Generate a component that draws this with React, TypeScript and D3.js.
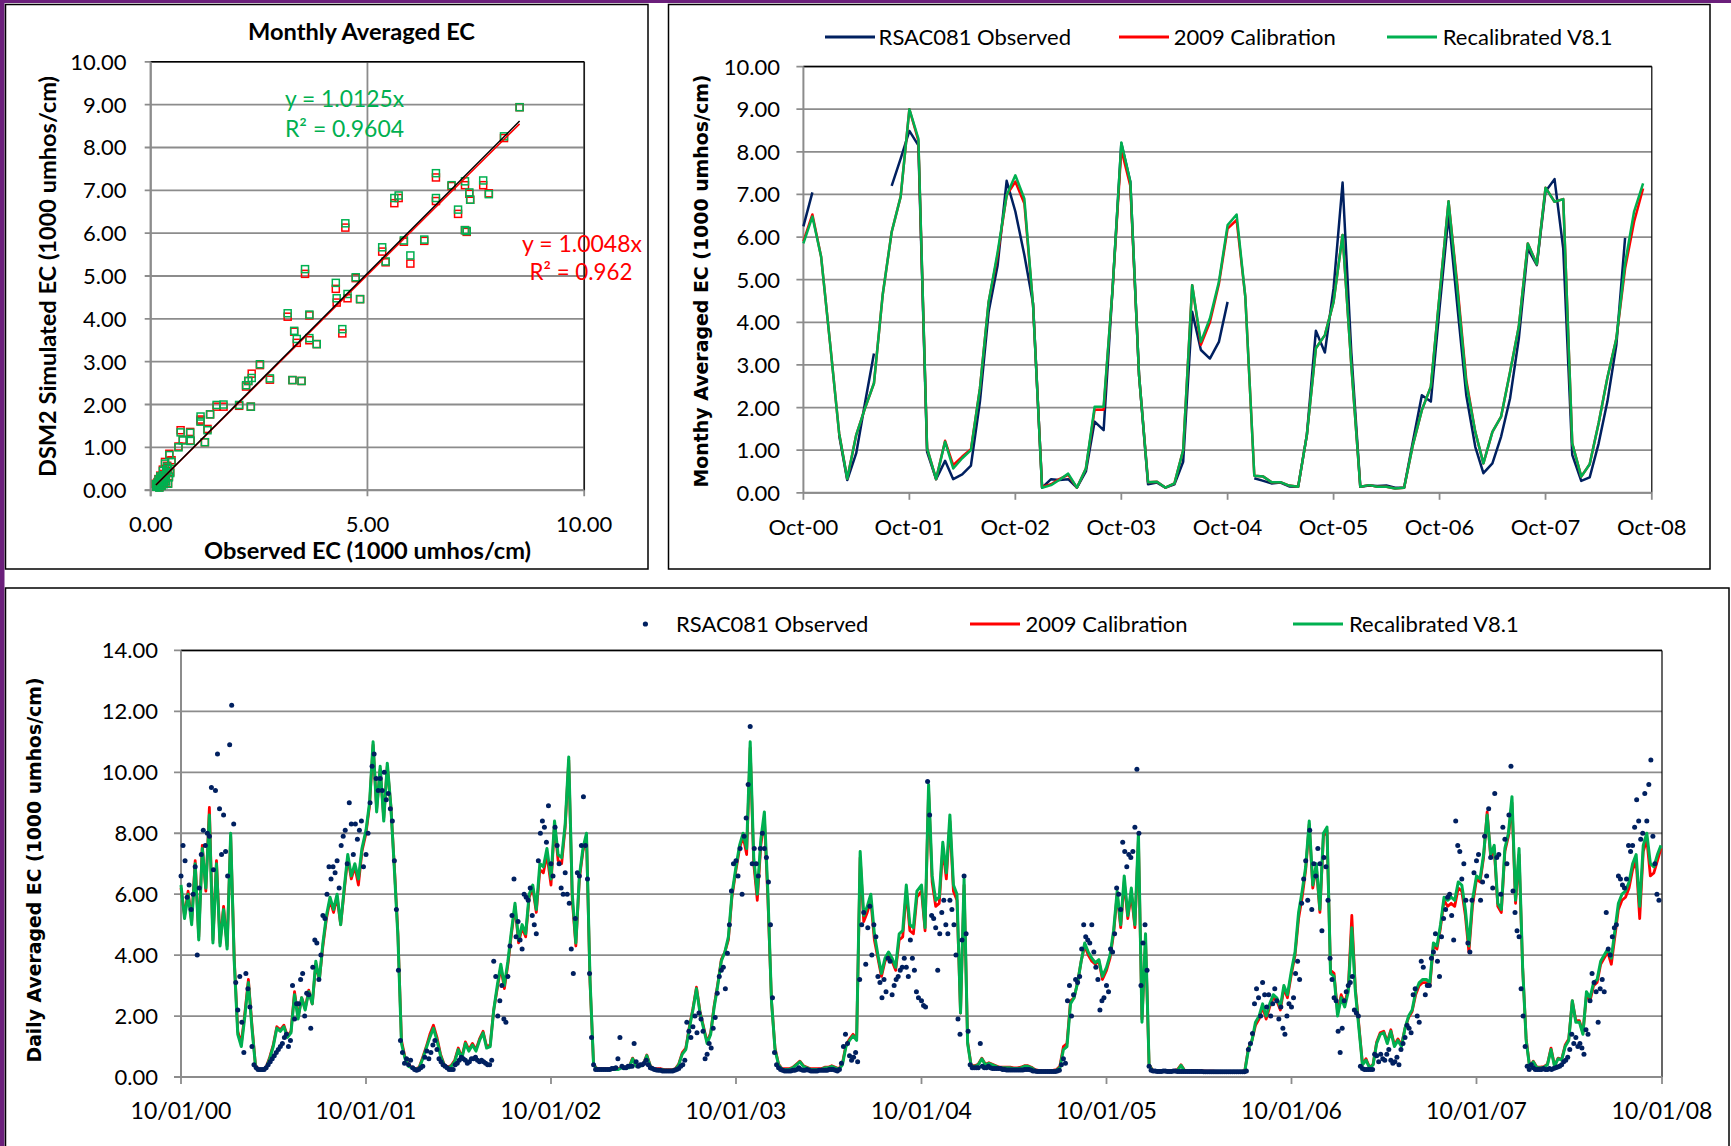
import React from 'react';
import * as d3 from 'd3';

const FONT = "Lato, 'Open Sans', sans-serif";
const TITLE_FONT = "'DejaVu Sans', Verdana, sans-serif";
const NAVY = '#002060';
const RED = '#ff0000';
const GREEN = '#00b050';
const GRID = '#8c8c8c';
const PURPLE = '#6b1f7b';

// ---------------- Scatter (monthly observed vs simulated) ----------------
const scatterObserved = [8.51, 8.15, 6.58, 6.94, 7.25, 7.67, 7.35, 7.37, 7.8, 6.58, 5.62, 5.72, 7.09, 7.25, 7.29, 4.49, 5.84, 6.31, 5.99, 5.34, 5.42, 3.56, 4.27, 4.73, 4.29, 4.54, 4.83, 3.16, 3.66, 3.31, 3.37, 3.66, 3.83, 4.42, 2.52, 2.33, 2.2, 2.25, 2.75, 3.27, 3.48, 2.04, 2.31, 1.52, 1.68, 1.37, 1.15, 1.15, 1.31, 1.25, 0.69, 0.91, 0.92, 0.74, 0.64, 0.43, 0.33, 0.48, 0.4, 0.36, 0.3, 0.28, 0.25, 0.22, 0.2, 0.18, 0.15, 0.13, 0.2, 0.25, 0.3, 0.35, 0.42, 0.45, 0.38, 0.28, 0.16, 0.12, 0.22, 0.32, 0.18, 0.4];
const scatterRecalibrated = [8.94, 8.26, 7.4, 7.12, 7.21, 7.23, 6.95, 6.78, 6.91, 6.82, 6.82, 6.88, 6.55, 6.07, 6.05, 6.23, 5.83, 5.85, 5.48, 5.67, 5.34, 5.16, 4.84, 4.97, 4.48, 4.58, 4.46, 4.13, 4.1, 3.72, 3.53, 3.55, 3.41, 3.76, 2.94, 2.62, 2.45, 2.55, 2.61, 2.57, 2.55, 1.99, 1.95, 1.99, 2.0, 1.77, 1.72, 1.6, 1.4, 1.12, 1.35, 1.34, 1.15, 1.16, 1.0, 0.82, 0.62, 0.66, 0.5, 0.42, 0.35, 0.45, 0.28, 0.2, 0.15, 0.12, 0.1, 0.08, 0.06, 0.1, 0.14, 0.2, 0.3, 0.4, 0.55, 0.22, 0.18, 0.14, 0.32, 0.25, 0.25, 0.15];
const scatterCalibration2009 = [8.94, 8.22, 7.3, 7.1, 7.12, 7.12, 6.92, 6.78, 6.93, 6.75, 6.7, 6.82, 6.45, 6.07, 6.03, 6.13, 5.8, 5.82, 5.29, 5.57, 5.32, 5.05, 4.7, 4.95, 4.38, 4.48, 4.46, 4.05, 4.08, 3.7, 3.44, 3.5, 3.41, 3.66, 2.92, 2.72, 2.42, 2.55, 2.58, 2.57, 2.55, 1.97, 1.95, 1.95, 1.95, 1.77, 1.65, 1.62, 1.43, 1.12, 1.4, 1.36, 1.16, 1.18, 1.02, 0.85, 0.66, 0.7, 0.52, 0.45, 0.38, 0.48, 0.3, 0.22, 0.16, 0.13, 0.11, 0.08, 0.07, 0.11, 0.15, 0.22, 0.32, 0.42, 0.57, 0.24, 0.19, 0.15, 0.34, 0.27, 0.26, 0.16];
const slopeRecalibrated = 1.0125;
const slopeCalibration2009 = 1.0048;
const scatterXTicks = [0, 5, 10];
const scatterYTicks = [0, 1, 2, 3, 4, 5, 6, 7, 8, 9, 10];

// ---------------- Monthly series, Oct-00 .. Sep-08 ----------------
const monthlyObserved = [6.25, 7.05, null, null, 1.35, 0.3, 0.93, 2.1, 3.27, null, 7.2, 7.84,
  8.49, 8.15, 0.96, 0.32, 0.75, 0.32, 0.43, 0.64, 2.14, 4.25, 5.34, 7.32,
  6.6, 5.58, 4.44, 0.12, 0.32, 0.3, 0.32, 0.12, 0.5, 1.67, 1.47, 4.8,
  8.2, 7.3, 2.76, 0.2, 0.24, 0.12, 0.2, 0.73, 4.25, 3.35, 3.15, 3.54,
  4.48, null, null, 0.34, 0.28, 0.22, 0.24, 0.15, 0.14, 1.36, 3.8, 3.29,
  4.8, 7.28, 3.3, 0.14, 0.17, 0.16, 0.17, 0.12, 0.12, 1.2, 2.29, 2.14,
  4.33, 6.52, 4.4, 2.29, 1.08, 0.46, 0.69, 1.32, 2.22, 3.62, 5.73, 5.34,
  7.07, 7.36, 5.73, 0.89, 0.28, 0.36, 1.16, 2.14, 3.47, 5.98, null, null];
const monthlyCalibration2009 = [5.9, 6.53, 5.54, 3.5, 1.4, 0.33, 1.36, 1.98, 2.57, 4.64, 6.12, 6.95,
  9.0, 8.26, 1.04, 0.32, 1.22, 0.65, 0.85, 1.02, 2.45, 4.48, 5.58, 6.98,
  7.3, 6.79, 4.4, 0.14, 0.2, 0.32, 0.42, 0.12, 0.57, 1.95, 1.95, 4.8,
  8.05, 7.2, 2.76, 0.25, 0.26, 0.12, 0.22, 1.0, 4.87, 3.47, 4.0, 4.9,
  6.2, 6.4, 4.6, 0.4, 0.38, 0.25, 0.25, 0.17, 0.14, 1.36, 3.39, 3.7,
  4.48, 6.05, 3.0, 0.14, 0.18, 0.14, 0.14, 0.1, 0.12, 1.12, 1.94, 2.49,
  4.64, 6.84, 4.9, 2.65, 1.43, 0.69, 1.43, 1.79, 2.84, 3.9, 5.85, 5.36,
  7.16, 6.83, 6.89, 1.16, 0.38, 0.67, 1.64, 2.7, 3.62, 5.26, 6.36, 7.14];
const monthlyRecalibrated = [5.85, 6.48, 5.54, 3.5, 1.4, 0.33, 1.36, 1.98, 2.57, 4.64, 6.12, 6.95,
  9.0, 8.31, 1.04, 0.32, 1.2, 0.57, 0.81, 1.0, 2.45, 4.48, 5.65, 6.98,
  7.45, 6.9, 4.4, 0.12, 0.18, 0.3, 0.45, 0.12, 0.57, 2.02, 2.02, 4.8,
  8.22, 7.3, 2.76, 0.25, 0.26, 0.12, 0.22, 1.0, 4.87, 3.54, 4.09, 4.95,
  6.28, 6.53, 4.6, 0.4, 0.38, 0.25, 0.25, 0.17, 0.14, 1.36, 3.39, 3.7,
  4.48, 6.05, 3.0, 0.14, 0.18, 0.14, 0.14, 0.1, 0.12, 1.12, 1.94, 2.49,
  4.64, 6.84, 4.8, 2.57, 1.43, 0.69, 1.43, 1.79, 2.84, 3.9, 5.85, 5.36,
  7.16, 6.83, 6.89, 1.16, 0.38, 0.67, 1.64, 2.7, 3.62, 5.38, 6.6, 7.26];
const monthlyTickLabels = ['Oct-00', 'Oct-01', 'Oct-02', 'Oct-03', 'Oct-04', 'Oct-05', 'Oct-06', 'Oct-07', 'Oct-08'];
const monthlyYTicks = [0, 1, 2, 3, 4, 5, 6, 7, 8, 9, 10];

// ---------------- Daily series (weekly readings of the model lines) ----------------
const recalWY2001 = [6.3, 5.2, 6.0, 5.0, 7.0, 4.5, 7.5, 6.2, 8.6, 4.4, 7.0, 4.3, 5.5, 4.2, 8.0, 3.8, 1.4, 1.0, 2.0, 3.1, 1.6, 0.35, 0.22, 0.22, 0.3, 0.6, 1.0, 1.6, 1.5, 1.65, 1.3, 1.45, 2.7, 1.9, 2.6, 2.2, 2.8, 2.4, 3.8, 3.2, 4.4, 5.3, 5.9, 5.5, 6.0, 5.0, 6.2, 7.3, 6.6, 7.0, 6.5, 7.5];
const recalWY2002 = [8.1, 9.0, 11.0, 8.7, 10.2, 8.4, 10.3, 8.9, 6.8, 4.6, 1.1, 0.6, 0.35, 0.3, 0.25, 0.3, 0.6, 0.95, 1.3, 1.6, 1.2, 0.7, 0.4, 0.3, 0.35, 0.5, 0.9, 0.6, 1.1, 0.85, 1.05, 0.85, 1.2, 1.45, 0.95, 1.0, 2.2, 3.0, 3.7, 3.0, 3.8, 4.8, 5.7, 4.5, 5.0, 4.7, 6.0, 6.3, 5.5, 7.0, 6.9, 7.5];
const recalWY2003 = [6.5, 8.4, 7.3, 7.2, 8.3, 10.5, 6.0, 4.4, 6.6, 7.5, 8.0, 3.2, 0.4, 0.25, 0.25, 0.25, 0.25, 0.25, 0.25, 0.25, 0.3, 0.3, 0.3, 0.6, 0.35, 0.35, 0.4, 0.7, 0.35, 0.25, 0.25, 0.25, 0.22, 0.22, 0.22, 0.25, 0.4, 0.75, 0.9, 1.6, 2.2, 2.9, 2.1, 1.6, 1.1, 1.4, 2.3, 3.0, 3.8, 4.1, 4.6, 6.0];
const recalWY2004 = [6.9, 7.6, 8.0, 7.5, 11.0, 7.2, 6.0, 7.8, 8.7, 6.0, 2.5, 0.9, 0.4, 0.25, 0.25, 0.25, 0.3, 0.4, 0.5, 0.35, 0.3, 0.25, 0.25, 0.25, 0.25, 0.3, 0.3, 0.35, 0.3, 0.25, 0.4, 1.0, 1.2, 1.35, 1.2, 7.4, 5.3, 5.6, 6.0, 4.7, 4.0, 3.4, 3.9, 4.1, 3.9, 3.6, 4.7, 4.8, 6.3, 5.0, 4.9, 6.1];
const recalWY2005 = [6.3, 4.9, 9.6, 6.6, 5.8, 5.9, 7.7, 6.7, 8.6, 6.3, 6.0, 2.1, 6.5, 1.1, 0.35, 0.35, 0.4, 0.6, 0.4, 0.45, 0.4, 0.35, 0.3, 0.3, 0.3, 0.3, 0.28, 0.28, 0.3, 0.35, 0.35, 0.3, 0.22, 0.2, 0.18, 0.18, 0.18, 0.2, 0.22, 0.3, 0.9, 1.0, 2.4, 2.6, 3.1, 3.8, 4.4, 4.1, 3.9, 3.75, 3.85, 3.3];
const recalWY2006 = [3.6, 4.0, 4.8, 6.1, 5.0, 6.6, 5.3, 6.2, 5.0, 8.0, 1.8, 4.7, 0.4, 0.2, 0.2, 0.2, 0.2, 0.2, 0.18, 0.2, 0.22, 0.38, 0.2, 0.18, 0.2, 0.2, 0.18, 0.18, 0.17, 0.17, 0.17, 0.16, 0.16, 0.16, 0.15, 0.15, 0.15, 0.15, 0.16, 0.2, 0.9, 1.2, 1.8, 2.0, 2.4, 2.0, 2.4, 2.7, 2.6, 2.3, 3.0, 2.7];
const recalWY2007 = [3.5, 4.1, 5.4, 6.1, 6.9, 8.4, 6.3, 7.0, 5.5, 8.0, 8.2, 3.4, 3.3, 2.0, 2.6, 2.3, 2.8, 4.9, 2.8, 1.6, 0.4, 0.55, 0.3, 0.4, 1.1, 1.4, 1.45, 1.1, 1.5, 1.0, 1.2, 1.0, 1.6, 2.0, 2.2, 2.8, 3.1, 3.2, 3.2, 3.1, 4.4, 4.3, 5.0, 5.9, 5.8, 5.9, 5.8, 6.4, 6.3, 5.5, 4.3, 5.8];
const recalWY2008 = [6.6, 6.5, 7.3, 8.6, 7.3, 7.6, 5.7, 5.5, 7.5, 8.0, 9.2, 5.8, 7.5, 3.6, 1.2, 0.3, 0.5, 0.3, 0.3, 0.32, 0.4, 0.9, 0.35, 0.6, 0.55, 1.0, 1.2, 2.5, 1.8, 1.8, 1.4, 2.8, 2.6, 3.1, 3.2, 3.8, 4.0, 4.2, 3.9, 4.8, 5.7, 6.0, 6.1, 6.4, 7.0, 7.3, 5.6, 7.6, 8.0, 7.0, 6.9, 7.3, 7.6];

const cal2009WY2001 = [6.2, 5.3, 6.1, 5.1, 7.1, 4.6, 7.6, 6.1, 8.85, 4.5, 7.1, 4.4, 5.6, 4.3, 7.9, 3.9, 1.5, 1.1, 2.1, 3.2, 1.7, 0.38, 0.24, 0.24, 0.32, 0.65, 1.05, 1.65, 1.55, 1.7, 1.35, 1.5, 2.8, 1.95, 2.6, 2.25, 2.85, 2.4, 3.7, 3.2, 4.3, 5.2, 5.8, 5.4, 5.9, 5.0, 6.1, 7.2, 6.5, 6.9, 6.3, 7.4];
const cal2009WY2002 = [8.0, 8.9, 10.9, 8.8, 10.1, 8.5, 10.2, 8.9, 6.9, 4.7, 1.2, 0.65, 0.38, 0.32, 0.27, 0.32, 0.65, 1.0, 1.4, 1.7, 1.3, 0.75, 0.42, 0.32, 0.38, 0.55, 0.95, 0.65, 1.15, 0.9, 1.1, 0.9, 1.25, 1.5, 1.0, 1.05, 2.2, 2.9, 3.6, 2.9, 3.7, 4.7, 5.6, 4.4, 4.9, 4.6, 5.9, 6.2, 5.4, 6.8, 6.7, 7.3];
const cal2009WY2003 = [6.3, 8.3, 7.1, 7.0, 8.2, 10.4, 5.8, 4.3, 6.5, 7.4, 7.9, 3.1, 0.42, 0.27, 0.27, 0.27, 0.27, 0.27, 0.27, 0.27, 0.32, 0.32, 0.32, 0.62, 0.37, 0.37, 0.42, 0.72, 0.37, 0.27, 0.27, 0.27, 0.24, 0.24, 0.24, 0.27, 0.42, 0.8, 0.95, 1.65, 2.25, 2.95, 2.15, 1.65, 1.15, 1.45, 2.35, 3.05, 3.85, 4.1, 4.5, 5.9];
const cal2009WY2004 = [6.8, 7.5, 7.9, 7.3, 10.8, 7.0, 5.8, 7.6, 8.5, 5.8, 2.5, 0.95, 0.42, 0.27, 0.27, 0.27, 0.32, 0.42, 0.52, 0.37, 0.32, 0.27, 0.27, 0.27, 0.27, 0.32, 0.32, 0.37, 0.32, 0.27, 0.45, 1.05, 1.25, 1.4, 1.25, 7.2, 5.1, 5.4, 5.8, 4.5, 3.9, 3.3, 3.8, 4.0, 3.8, 3.5, 4.5, 4.6, 6.1, 4.8, 4.7, 5.9];
const cal2009WY2005 = [6.1, 4.8, 9.4, 6.4, 5.6, 5.7, 7.5, 6.5, 8.4, 6.1, 5.8, 2.1, 6.3, 1.15, 0.37, 0.37, 0.42, 0.62, 0.42, 0.47, 0.42, 0.37, 0.32, 0.32, 0.32, 0.32, 0.3, 0.3, 0.32, 0.37, 0.37, 0.32, 0.24, 0.22, 0.2, 0.2, 0.2, 0.22, 0.24, 0.35, 1.0, 1.1, 2.5, 2.6, 3.1, 3.8, 4.3, 4.0, 3.8, 3.7, 3.8, 3.2];
const cal2009WY2006 = [3.5, 3.9, 4.7, 6.0, 4.9, 6.4, 5.2, 6.0, 4.9, 7.8, 1.9, 4.5, 0.42, 0.22, 0.22, 0.22, 0.22, 0.22, 0.2, 0.22, 0.24, 0.4, 0.22, 0.2, 0.22, 0.22, 0.2, 0.2, 0.19, 0.19, 0.19, 0.18, 0.18, 0.18, 0.17, 0.17, 0.17, 0.17, 0.18, 0.22, 0.95, 1.2, 1.7, 1.9, 2.3, 1.9, 2.3, 2.6, 2.5, 2.2, 2.9, 2.6];
const cal2009WY2007 = [3.4, 4.0, 5.2, 5.9, 6.8, 8.3, 6.2, 6.9, 5.4, 7.9, 8.1, 3.5, 3.4, 2.1, 2.7, 2.4, 2.9, 5.3, 2.9, 1.7, 0.42, 0.6, 0.32, 0.42, 1.15, 1.45, 1.5, 1.15, 1.55, 1.05, 1.25, 1.05, 1.6, 1.95, 2.15, 2.7, 3.0, 3.1, 3.1, 3.0, 4.3, 4.2, 4.9, 5.8, 5.6, 5.7, 5.6, 6.2, 6.1, 5.3, 4.1, 5.6];
const cal2009WY2008 = [6.5, 6.4, 7.2, 8.7, 7.2, 7.5, 5.6, 5.4, 7.4, 7.9, 9.0, 5.7, 7.3, 3.6, 1.25, 0.32, 0.52, 0.32, 0.32, 0.34, 0.42, 0.95, 0.37, 0.62, 0.58, 1.05, 1.25, 2.5, 1.85, 1.85, 1.45, 2.7, 2.5, 3.0, 3.1, 3.7, 3.9, 4.1, 3.7, 4.6, 5.5, 5.8, 5.9, 6.2, 6.8, 7.1, 5.2, 7.4, 7.8, 6.6, 6.7, 7.1, 7.5];

// Observed daily EC, read every 4th day
const obsWY2001 = [6.6, 7.6, 7.1, 5.9, 6.3, 5.5, 6.0, 6.9, 4.0, 6.2, 7.3, 8.1, 7.6, 8.0, 7.9, 9.5, 6.8, 9.4, 10.6, 8.8, 7.3, 8.6, 7.4, 6.6, 10.9, 12.2, 8.3, 3.1, 2.2, 3.3, 1.8, 0.8, 3.4, 2.9, 2.3, 1.0, 0.4, 0.3, 0.25, 0.25, 0.25, 0.25, 0.3, 0.4, 0.5, 0.6, 0.7, 0.8, 0.9, 1.0, 1.1, 1.3, 1.4, 1.0, 1.2, 3.0, 1.9, 2.4, 2.4, 3.2, 3.4, 2.0, 2.75, 2.7, 1.6, 3.6, 4.5, 4.4, 3.2, 4.0, 5.3, 5.2, 6.0, 6.9, 6.5, 6.9, 6.7, 7.1, 6.2, 7.6, 7.9, 8.1, 7.0, 9.0, 8.3, 7.3, 8.3, 7.8, 8.1, 8.4, 6.9];
const obsWY2002 = [7.3, 8.0, 9.0, 10.2, 10.6, 9.8, 9.4, 9.8, 9.4, 10.0, 9.1, 9.3, 8.8, 8.4, 7.1, 5.5, 3.5, 1.2, 0.8, 0.45, 0.6, 0.4, 0.55, 0.3, 0.25, 0.22, 0.25, 0.3, 0.35, 0.65, 0.85, 0.6, 0.8, 1.05, 1.2, 0.9, 0.6, 0.5, 0.4, 0.35, 0.3, 0.25, 0.25, 0.25, 0.4, 0.45, 0.55, 0.65, 0.6, 0.55, 0.45, 0.5, 0.6, 0.6, 0.65, 0.55, 0.5, 0.55, 0.5, 0.45, 0.4, 0.4, 0.55, 3.8, 3.3, 2.0, 2.5, 3.0, 1.9, 1.8, 3.3, 4.3, 5.3, 6.5, 4.6, 5.1, 4.5, 4.2, 6.0, 5.9, 5.8, 6.2, 5.3, 5.0, 4.7, 7.1, 8.0, 8.4, 8.2, 7.7, 8.9];
const obsWY2003 = [7.0, 6.6, 8.2, 7.6, 7.0, 6.2, 6.0, 6.7, 6.0, 5.7, 4.2, 3.4, 5.2, 6.7, 6.6, 7.6, 9.2, 7.6, 6.5, 3.4, 1.3, 0.4, 0.25, 0.25, 0.25, 0.25, 0.25, 0.25, 0.25, 0.25, 0.28, 0.28, 0.3, 0.6, 1.3, 0.35, 0.3, 0.3, 0.35, 0.35, 0.35, 1.1, 0.5, 0.35, 0.4, 0.4, 0.45, 0.55, 0.4, 0.3, 0.28, 0.25, 0.23, 0.22, 0.22, 0.2, 0.2, 0.2, 0.2, 0.2, 0.2, 0.22, 0.25, 0.28, 0.35, 0.4, 0.55, 1.8, 1.5, 1.3, 1.65, 2.0, 1.45, 2.1, 1.9, 1.5, 0.6, 0.75, 1.1, 0.95, 1.6, 1.95, 2.75, 3.3, 3.5, 3.6, 2.9, 4.06, 5.0, 6.1, 7.0];
const obsWY2004 = [7.1, 6.6, 7.5, 6.0, 7.9, 8.5, 9.6, 11.5, 7.0, 7.5, 7.0, 6.6, 7.5, 8.0, 7.5, 7.2, 6.4, 5.0, 2.6, 0.8, 0.4, 0.3, 0.25, 0.22, 0.2, 0.2, 0.2, 0.2, 0.22, 0.22, 0.25, 0.3, 0.25, 0.22, 0.22, 0.25, 0.22, 0.2, 0.2, 0.2, 0.2, 0.22, 0.22, 0.22, 0.22, 0.22, 0.25, 0.25, 0.25, 0.22, 0.2, 0.25, 0.45, 1.0, 1.4, 1.1, 0.7, 0.55, 0.65, 0.8, 0.5, 3.2, 5.0, 5.4, 3.7, 4.9, 5.6, 4.0, 5.0, 4.6, 3.3, 3.1, 2.6, 3.2, 2.8, 3.9, 3.8, 2.7, 3.0, 3.2, 3.3, 3.5, 3.6, 3.9, 3.6, 3.3, 4.5, 3.9, 3.5, 2.8, 2.6];
const obsWY2005 = [2.5, 2.35, 2.3, 9.7, 8.6, 5.3, 5.2, 4.9, 3.5, 4.7, 5.4, 5.8, 5.0, 4.7, 5.8, 5.5, 5.0, 4.0, 1.9, 1.4, 4.5, 6.6, 4.7, 1.5, 0.4, 0.3, 0.3, 0.3, 0.3, 1.1, 0.35, 0.3, 0.3, 0.35, 0.3, 0.28, 0.28, 0.28, 0.28, 0.28, 0.25, 0.25, 0.23, 0.23, 0.23, 0.23, 0.23, 0.23, 0.23, 0.23, 0.23, 0.25, 0.25, 0.25, 0.23, 0.2, 0.2, 0.18, 0.18, 0.18, 0.18, 0.18, 0.18, 0.18, 0.18, 0.18, 0.18, 0.2, 0.22, 0.4, 0.6, 0.45, 2.5, 3.0, 2.0, 2.7, 3.2, 3.1, 3.3, 4.2, 5.0, 4.6, 4.5, 4.4, 5.0, 4.1, 3.6, 3.2, 2.2, 2.5, 2.6];
const obsWY2006 = [3.0, 2.8, 4.2, 4.1, 4.7, 6.2, 6.0, 5.5, 7.7, 7.4, 6.9, 7.3, 7.2, 7.4, 8.2, 10.1, 8.0, 3.0, 4.4, 5.0, 3.5, 0.35,
  0.22, 0.2, 0.2, 0.18, 0.18, 0.18, 0.2, 0.2, 0.18, 0.18, 0.18, 0.2, 0.2, 0.18, 0.18, 0.18,
  0.18, 0.18, 0.18, 0.18, 0.18, 0.18, 0.18, 0.18, 0.18, 0.18, 0.17, 0.17, 0.17, 0.17, 0.17, 0.17,
  0.17, 0.17, 0.17, 0.17, 0.17, 0.17, 0.17, 0.17, 0.17, 0.17, 0.17, 0.17, 0.17, 0.17, 0.17, 0.2,
  0.9, 1.1, 1.43, 2.4, 2.9, 2.6, 2.0, 3.1, 2.7, 2.3, 2.7, 2.0, 2.4, 2.9, 2.5, 1.9, 2.3, 1.6, 1.4, 2.0, 2.4];
const obsWY2007 = [2.3, 2.6, 3.4, 3.8, 3.2, 5.7, 6.5, 7.1, 5.8, 8.1, 5.5, 7.0, 6.6, 7.5, 7.0, 4.8, 7.2, 6.9, 5.8, 3.9, 3.2, 2.6, 2.5, 1.5, 0.8, 1.6, 2.5, 2.8, 3.0, 3.1, 3.3, 2.2, 2.1, 2.0, 0.35, 0.28, 0.25, 0.25, 0.25, 0.25, 0.25, 0.75, 0.7, 0.5, 0.75, 0.6, 0.55, 0.75, 0.9, 0.55, 0.45, 0.5, 0.65, 0.4, 0.9, 1.1, 1.3, 1.7, 1.6, 1.45, 2.7, 2.9, 2.0, 1.8, 3.8, 3.6, 2.7, 3.0, 3.0, 3.9, 4.1, 4.7, 3.8, 3.3, 4.6, 5.2, 5.5, 5.9, 6.0, 5.3, 4.5, 8.4, 7.6, 7.4, 6.5, 7.0, 5.8, 4.4, 4.1, 5.8, 6.7];
const obsWY2008 = [7.1, 7.3, 5.8, 6.4, 7.9, 6.6, 8.8, 7.2, 6.2, 9.3, 7.2, 7.3, 6.0, 8.2, 7.8, 7.0, 8.6, 10.2, 6.1, 5.4, 4.8, 4.6, 2.9, 2.0, 1.0, 0.35, 0.25, 0.4, 0.3, 0.25, 0.25, 0.25, 0.25, 0.28, 0.25, 0.25, 0.28, 0.25, 0.28, 0.3, 0.33, 0.35, 0.4, 0.5, 0.55, 0.65, 0.9, 1.4, 1.1, 1.3, 1.0, 1.1, 0.95, 0.75, 1.55, 1.4, 2.5, 3.4, 3.1, 2.8, 1.8, 2.9, 3.2, 2.8, 5.4, 4.2, 4.0, 4.6, 4.9, 5.0, 6.6, 6.5, 6.3, 6.2, 6.5, 7.6, 7.4, 7.6, 8.2, 9.1, 8.4, 7.8, 8.0, 9.3, 8.4, 9.6, 10.4, 7.9, 7.0, 6.0, 5.8];

const dailyTickLabels = ['10/01/00', '10/01/01', '10/01/02', '10/01/03', '10/01/04', '10/01/05', '10/01/06', '10/01/07', '10/01/08'];
const dailyYTicks = [0, 2, 4, 6, 8, 10, 12, 14];

const DAY = 86400000;
const wyStart = (k: number) => Date.UTC(2000 + k, 9, 1);

function expand(arrs: number[][], step: number) {
  const out: { date: Date; v: number }[] = [];
  arrs.forEach((arr, k) => {
    arr.forEach((v, j) => out.push({ date: new Date(wyStart(k) + j * step * DAY), v }));
  });
  return out;
}

const fmt2 = d3.format('.2f');

function Legend({ items, y }: { items: { x: number; tx: number; label: string; color: string; kind: 'line' | 'dot' }[]; y: number }) {
  return (
    <g>
      {items.map((it, i) => (
        <g key={i}>
          {it.kind === 'line' ? (
            <line x1={it.x} x2={it.x + 50} y1={y} y2={y} stroke={it.color} strokeWidth={3} />
          ) : (
            <circle cx={it.x} cy={y} r={2.6} fill={it.color} />
          )}
          <text x={it.tx} y={y + 8} fontFamily={FONT} fontSize={22} fill="#000">{it.label}</text>
        </g>
      ))}
    </g>
  );
}

export default function App() {
  const t0 = new Date(wyStart(0));
  const t1 = new Date(wyStart(8));
  const yearTicks = d3.range(0, 9).map((k) => new Date(wyStart(k)));

  // ---- scatter scales
  const sx = d3.scaleLinear().domain([0, 10]).range([150.7, 584.2]);
  const sy = d3.scaleLinear().domain([0, 10]).range([490.2, 61.8]);
  const pts = scatterObserved.map((o, i) => ({ o, g: scatterRecalibrated[i], r: scatterCalibration2009[i] }));
  const xMin = d3.min(scatterObserved) as number;
  const xMax = d3.max(scatterObserved) as number;

  // ---- monthly scales
  const mx = d3.scaleUtc().domain([t0, t1]).range([803.4, 1651.8]);
  const my = d3.scaleLinear().domain([0, 10]).range([492.8, 66.6]);
  const mDate = (i: number) => new Date(Date.UTC(2000, 9 + i, 1));
  const mLine = d3.line<number | null>()
    .defined((d) => d != null)
    .x((_, i) => mx(mDate(i)))
    .y((d) => my(d as number));

  // ---- daily scales
  const dx = d3.scaleUtc().domain([t0, t1]).range([181, 1662]);
  const dy = d3.scaleLinear().domain([0, 14]).range([1077, 650.4]);
  const recal = expand([recalWY2001, recalWY2002, recalWY2003, recalWY2004, recalWY2005, recalWY2006, recalWY2007, recalWY2008], 7);
  const cal = expand([cal2009WY2001, cal2009WY2002, cal2009WY2003, cal2009WY2004, cal2009WY2005, cal2009WY2006, cal2009WY2007, cal2009WY2008], 7);
  const obs = expand([obsWY2001, obsWY2002, obsWY2003, obsWY2004, obsWY2005, obsWY2006, obsWY2007, obsWY2008], 4);
  const dLine = d3.line<{ date: Date; v: number }>().x((d) => dx(d.date)).y((d) => dy(d.v));

  const sq = 7;

  return (
    <svg width={1731} height={1146} style={{ position: 'absolute', left: 0, top: 0, background: '#fff' }}>
      <rect x={0} y={0} width={1731} height={1146} fill="#fff" />
      <rect x={0} y={0} width={1731} height={3} fill={PURPLE} />
      <rect x={0} y={0} width={4.5} height={1146} fill={PURPLE} />

      {/* panel borders */}
      <rect x={5.5} y={4.5} width={642.5} height={564.5} fill="none" stroke="#000" strokeWidth={1.5} />
      <rect x={668.5} y={4.5} width={1041.5} height={564.5} fill="none" stroke="#000" strokeWidth={1.5} />
      <rect x={5.5} y={588} width={1723.5} height={570} fill="none" stroke="#000" strokeWidth={1.5} />

      {/* ================= Scatter ================= */}
      <g>
        {scatterYTicks.map((t) => (
          <line key={'sg' + t} x1={sx(0) - 6} x2={sx(10)} y1={sy(t)} y2={sy(t)} stroke={GRID} strokeWidth={1.8} />
        ))}
        {scatterXTicks.map((t) => (
          <line key={'sv' + t} x1={sx(t)} x2={sx(t)} y1={sy(10)} y2={sy(0) + 6} stroke={GRID} strokeWidth={1.8} />
        ))}
        <line x1={sx(0)} x2={sx(10)} y1={sy(10)} y2={sy(10)} stroke="#000" strokeWidth={1.5} />
        <line x1={sx(10)} x2={sx(10)} y1={sy(10)} y2={sy(0)} stroke="#000" strokeWidth={1.2} />
        <line x1={sx(0)} x2={sx(0)} y1={sy(10)} y2={sy(0) + 6} stroke={GRID} strokeWidth={2} />
        <line x1={sx(0) - 6} x2={sx(10)} y1={sy(0)} y2={sy(0)} stroke={GRID} strokeWidth={2} />

        {pts.map((p, i) => (
          <rect key={'sr' + i} x={sx(p.o) - sq / 2} y={sy(p.r) - sq / 2} width={sq} height={sq} fill="none" stroke={RED} strokeWidth={1.5} />
        ))}
        {pts.map((p, i) => (
          <rect key={'sgq' + i} x={sx(p.o) - sq / 2} y={sy(p.g) - sq / 2} width={sq} height={sq} fill="none" stroke={GREEN} strokeWidth={1.5} />
        ))}
        <line x1={sx(xMin)} y1={sy(xMin * slopeCalibration2009)} x2={sx(xMax)} y2={sy(xMax * slopeCalibration2009)} stroke={RED} strokeWidth={1.5} />
        <line x1={sx(xMin)} y1={sy(xMin * slopeRecalibrated)} x2={sx(xMax)} y2={sy(xMax * slopeRecalibrated)} stroke="#000" strokeWidth={1.5} />

        {scatterYTicks.map((t) => (
          <text key={'syl' + t} x={126.5} y={sy(t) + 8} textAnchor="end" fontFamily={FONT} fontSize={22}>{fmt2(t)}</text>
        ))}
        {scatterXTicks.map((t) => (
          <text key={'sxl' + t} x={sx(t)} y={532} textAnchor="middle" fontFamily={FONT} fontSize={22}>{fmt2(t)}</text>
        ))}
        <text x={361.5} y={40} textAnchor="middle" fontFamily={FONT} fontWeight="bold" fontSize={22} textLength={227} lengthAdjust="spacingAndGlyphs">Monthly Averaged EC</text>
        <text x={367.5} y={559} textAnchor="middle" fontFamily={FONT} fontWeight="bold" fontSize={23} textLength={327} lengthAdjust="spacingAndGlyphs">Observed EC (1000 umhos/cm)</text>
        <text transform="rotate(-90 48 276.5)" x={48} y={284} textAnchor="middle" fontFamily={FONT} fontWeight="bold" fontSize={23} textLength={401} lengthAdjust="spacingAndGlyphs">DSM2 Simulated EC (1000 umhos/cm)</text>

        <text x={285} y={107} fontFamily={FONT} fontSize={23} fill={GREEN} textLength={119} lengthAdjust="spacingAndGlyphs">{`y = ${slopeRecalibrated}x`}</text>
        <text x={285} y={137} fontFamily={FONT} fontSize={23} fill={GREEN} textLength={119} lengthAdjust="spacingAndGlyphs">R² = 0.9604</text>
        <text x={522} y={251.5} fontFamily={FONT} fontSize={23} fill={RED} textLength={120} lengthAdjust="spacingAndGlyphs">{`y = ${slopeCalibration2009}x`}</text>
        <text x={529.5} y={280} fontFamily={FONT} fontSize={23} fill={RED} textLength={103} lengthAdjust="spacingAndGlyphs">R² = 0.962</text>
      </g>

      {/* ================= Monthly ================= */}
      <g>
        {monthlyYTicks.map((t) => (
          <line key={'mg' + t} x1={mx(t0) - 7} x2={mx(t1)} y1={my(t)} y2={my(t)} stroke={GRID} strokeWidth={1.8} />
        ))}
        <line x1={mx(t0)} x2={mx(t1)} y1={my(10)} y2={my(10)} stroke="#000" strokeWidth={1.5} />
        <line x1={mx(t1)} x2={mx(t1)} y1={my(10)} y2={my(0)} stroke="#000" strokeWidth={1.2} />
        <line x1={mx(t0)} x2={mx(t0)} y1={my(10)} y2={my(0)} stroke={GRID} strokeWidth={2} />
        <line x1={mx(t0)} x2={mx(t1)} y1={my(0)} y2={my(0)} stroke={GRID} strokeWidth={2} />
        {yearTicks.map((d, i) => (
          <line key={'mt' + i} x1={mx(d)} x2={mx(d)} y1={my(0)} y2={my(0) + 7} stroke={GRID} strokeWidth={1.8} />
        ))}
        <path d={mLine(monthlyObserved) || ''} fill="none" stroke={NAVY} strokeWidth={2.5} strokeLinejoin="round" />
        <path d={mLine(monthlyCalibration2009) || ''} fill="none" stroke={RED} strokeWidth={2.5} strokeLinejoin="round" />
        <path d={mLine(monthlyRecalibrated) || ''} fill="none" stroke={GREEN} strokeWidth={2.5} strokeLinejoin="round" />
        {monthlyYTicks.map((t) => (
          <text key={'myl' + t} x={780} y={my(t) + 8} textAnchor="end" fontFamily={FONT} fontSize={22}>{fmt2(t)}</text>
        ))}
        {yearTicks.map((d, i) => (
          <text key={'mxl' + i} x={mx(d)} y={535} textAnchor="middle" fontFamily={FONT} fontSize={22}>{monthlyTickLabels[i]}</text>
        ))}
        <text transform="rotate(-90 701 281)" x={701} y={288} textAnchor="middle" fontFamily={TITLE_FONT} fontWeight="bold" fontSize={20} textLength={413} lengthAdjust="spacingAndGlyphs">Monthy Averaged EC (1000 umhos/cm)</text>
        <Legend y={37} items={[
          { x: 825, tx: 878.6, label: 'RSAC081 Observed', color: NAVY, kind: 'line' },
          { x: 1119, tx: 1173.7, label: '2009 Calibration', color: RED, kind: 'line' },
          { x: 1387, tx: 1442.8, label: 'Recalibrated V8.1', color: GREEN, kind: 'line' },
        ]} />
      </g>

      {/* ================= Daily ================= */}
      <g>
        {dailyYTicks.map((t) => (
          <line key={'dg' + t} x1={dx(t0) - 7} x2={dx(t1)} y1={dy(t)} y2={dy(t)} stroke={GRID} strokeWidth={1.8} />
        ))}
        <line x1={dx(t0)} x2={dx(t1)} y1={dy(14)} y2={dy(14)} stroke="#000" strokeWidth={1.5} />
        <line x1={dx(t1)} x2={dx(t1)} y1={dy(14)} y2={dy(0)} stroke="#000" strokeWidth={1.2} />
        <line x1={dx(t0)} x2={dx(t0)} y1={dy(14)} y2={dy(0)} stroke={GRID} strokeWidth={2} />
        <line x1={dx(t0)} x2={dx(t1)} y1={dy(0)} y2={dy(0)} stroke={GRID} strokeWidth={2} />
        {yearTicks.map((d, i) => (
          <line key={'dt' + i} x1={dx(d)} x2={dx(d)} y1={dy(0)} y2={dy(0) + 7} stroke={GRID} strokeWidth={1.8} />
        ))}
        <path d={dLine(cal) || ''} fill="none" stroke={RED} strokeWidth={2.8} strokeLinejoin="round" />
        <path d={dLine(recal) || ''} fill="none" stroke={GREEN} strokeWidth={3} strokeLinejoin="round" />
        {obs.map((d, i) => (
          <circle key={'o' + i} cx={dx(d.date)} cy={dy(d.v)} r={2.5} fill={NAVY} />
        ))}
        {dailyYTicks.map((t) => (
          <text key={'dyl' + t} x={158} y={dy(t) + 8} textAnchor="end" fontFamily={FONT} fontSize={22}>{fmt2(t)}</text>
        ))}
        {yearTicks.map((d, i) => (
          <text key={'dxl' + i} x={dx(d)} y={1119} textAnchor="middle" fontFamily={FONT} fontSize={23}>{dailyTickLabels[i]}</text>
        ))}
        <text transform="rotate(-90 34 870)" x={34} y={877} textAnchor="middle" fontFamily={TITLE_FONT} fontWeight="bold" fontSize={20} textLength={385} lengthAdjust="spacingAndGlyphs">Daily Averaged EC (1000 umhos/cm)</text>
        <Legend y={624} items={[
          { x: 645.4, tx: 676, label: 'RSAC081 Observed', color: NAVY, kind: 'dot' },
          { x: 970, tx: 1025.6, label: '2009 Calibration', color: RED, kind: 'line' },
          { x: 1293, tx: 1349, label: 'Recalibrated V8.1', color: GREEN, kind: 'line' },
        ]} />
      </g>
    </svg>
  );
}
